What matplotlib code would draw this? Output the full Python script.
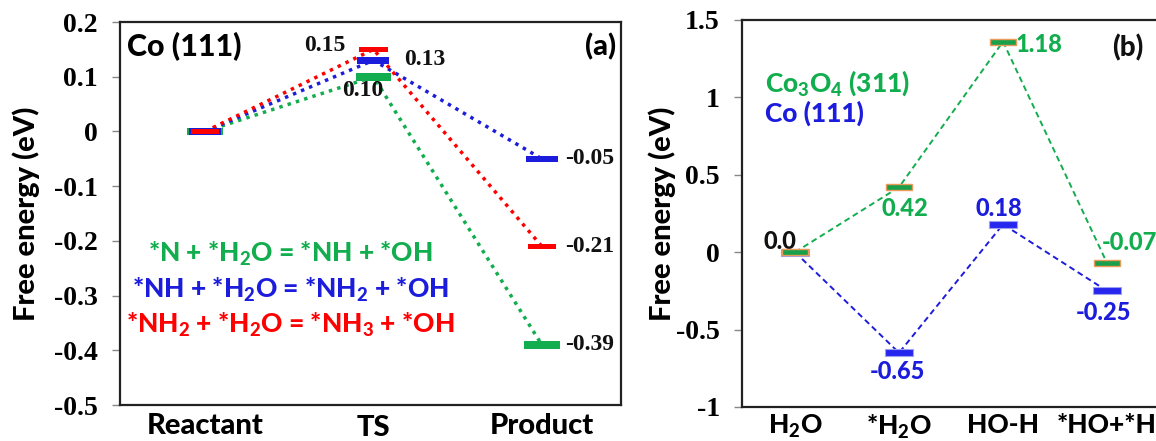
import matplotlib
matplotlib.use('Agg')
import matplotlib.pyplot as plt
import matplotlib.transforms as mtransforms

plt.rcParams['axes.unicode_minus'] = False
plt.rcParams['mathtext.fontset'] = 'custom'
plt.rcParams['mathtext.rm'] = 'Lato:black'
plt.rcParams['mathtext.bf'] = 'Lato:black'
plt.rcParams['mathtext.it'] = 'Lato:black'
plt.rcParams['mathtext.default'] = 'rm'

SANS = 'Lato'
W = 'black'
SERIF = 'Liberation Serif'
GREEN = '#12ad4e'
BLUE = '#1c1cdc'
RED = '#ff0000'

# ---- panel (a): Co(111) N hydrogenation steps
steps_a = ['Reactant', 'TS', 'Product']
e_nh = [0.0, 0.10, -0.39]      # *N + *H2O -> *NH + *OH
e_nh2 = [0.0, 0.13, -0.05]     # *NH + *H2O -> *NH2 + *OH
e_nh3 = [0.0, 0.15, -0.21]     # *NH2 + *H2O -> *NH3 + *OH
eq_labels = [r'*N + *H$_2$O = *NH + *OH',
             r'*NH + *H$_2$O = *NH$_2$ + *OH',
             r'*NH$_2$ + *H$_2$O = *NH$_3$ + *OH']
yticks_a = [-0.5, -0.4, -0.3, -0.2, -0.1, 0, 0.1, 0.2]

# ---- panel (b): water dissociation
steps_b = [r'H$_2$O', r'*H$_2$O', 'HO-H', '*HO+*H']
e_co3o4 = [0.0, 0.42, 1.36, -0.07]   # drawn level
lab_co3o4 = ['', '0.42', '1.18', '-0.07']
e_co = [0.0, -0.65, 0.18, -0.25]
lab_co = ['', '-0.65', '0.18', '-0.25']
yticks_b = [-1, -0.5, 0, 0.5, 1, 1.5]
yticklabels_b = ['-1', '-0.5', '0', '0.5', '1', '1.5']

fig = plt.figure(figsize=(11.56, 4.41), dpi=100)
ax1 = fig.add_axes([0.1038, 0.0816, 0.4334, 0.8685])
ax2 = fig.add_axes([0.6419, 0.0771, 0.3607, 0.8776])

for ax in (ax1, ax2):
    for s in ax.spines.values():
        s.set_color('#222222')
        s.set_linewidth(1.6)
    ax.tick_params(axis='y', direction='out', length=6, width=1, color='#888888', pad=10)
    ax.tick_params(axis='x', length=0)

# ---------------- panel (a)
xa = list(range(len(steps_a)))
series_a = [(e_nh, GREEN, 0.21, 0.014), (e_nh2, BLUE, 0.19, 0.012), (e_nh3, RED, 0.17, 0.010)]
for vals, c, w, h in series_a:
    ax1.plot(xa, vals, color=c, lw=2.5, linestyle=(0, (1, 1.5)), zorder=2)
for vals, c, w, h in series_a:
    ax1.barh(vals, w, left=[x - w / 2 for x in xa], height=h, color=c, zorder=3)

ax1.set_xlim(-0.505, 2.47)
ax1.set_ylim(-0.5, 0.2)
ax1.set_yticks(yticks_a)
ax1.set_yticklabels(['%g' % v for v in yticks_a], fontfamily=SERIF, fontweight='bold', fontsize=20)
ax1.set_xticks([])
ax1.set_ylabel('Free energy (eV)', fontfamily=SANS, fontweight=W, fontsize=21, labelpad=10)

tr = mtransforms.blended_transform_factory(ax1.transData, ax1.transAxes)
for x, s, dy in zip(xa, steps_a, [0, -0.006, 0]):
    ax1.text(x, -0.02 + dy, s, transform=tr, ha='center', va='top',
             fontfamily=SANS, fontweight=W, fontsize=21)

vt = dict(fontfamily=SERIF, fontweight='bold', fontsize=17, color='#111111')
ax1.text(0.71, e_nh3[1] + 0.007, '%.2f' % e_nh3[1], ha='center', va='center', **vt)
ax1.text(1.18, e_nh2[1] + 0.002, '%.2f' % e_nh2[1], ha='left', va='center', **vt)
ax1.text(0.935, e_nh[1] - 0.025, '%.2f' % e_nh[1], ha='center', va='center', **vt)
for vals in (e_nh, e_nh2, e_nh3):
    ax1.text(2.14, vals[2], '%.2f' % vals[2], ha='left', va='center', **vt)

ax1.text(0.014, 0.935, 'Co (111)', transform=ax1.transAxes, ha='left', va='center',
         fontfamily=SANS, fontweight=W, fontsize=22)
ax1.text(0.99, 0.935, '(a)', transform=ax1.transAxes, ha='right', va='center',
         fontfamily=SANS, fontweight=W, fontsize=21)
for lab, c, yy in zip(eq_labels, [GREEN, BLUE, RED], [-0.224, -0.289, -0.354]):
    ax1.text(0.505, yy, lab, ha='center', va='center', color=c,
             fontfamily=SANS, fontweight=W, fontsize=19)

# ---------------- panel (b)
xb = list(range(len(steps_b)))
ax2.plot(xb, e_co3o4, color=GREEN, lw=1.4, linestyle=(0, (3, 2)), zorder=2)
ax2.plot(xb, e_co, color=BLUE, lw=1.4, linestyle=(0, (3, 2)), zorder=2)
ax2.barh(e_co, 0.27, left=[x - 0.135 for x in xb], height=0.045, color='#2626ee',
         edgecolor='#a0a0f0', linewidth=0.8, zorder=3)
ax2.barh(e_co3o4, 0.25, left=[x - 0.125 for x in xb], height=0.04, color='#1aa04a',
         edgecolor='#eb9a5a', linewidth=1.0, zorder=4)

ax2.set_xlim(-0.51, 3.5)
ax2.set_ylim(-1, 1.5)
ax2.set_yticks(yticks_b)
ax2.set_yticklabels(yticklabels_b, fontfamily=SERIF, fontweight='bold', fontsize=20)
ax2.set_xticks([])
ax2.set_ylabel('Free energy (eV)', fontfamily=SANS, fontweight=W, fontsize=21, labelpad=0)

tr2 = mtransforms.blended_transform_factory(ax2.transData, ax2.transAxes)
for x, s in zip(xb, steps_b):
    ax2.text(x, -0.016, s, transform=tr2, ha='center', va='top',
             fontfamily=SANS, fontweight=W, fontsize=19)

bt = dict(fontfamily=SANS, fontweight=W, fontsize=17)
ax2.text(-0.15, 0.07, '0.0', ha='center', va='center', color='#111111', **bt)
ax2.text(1.06, e_co3o4[1] - 0.14, lab_co3o4[1], ha='center', va='center', color=GREEN, **bt)
ax2.text(2.12, e_co3o4[2] - 0.02, lab_co3o4[2], ha='left', va='center', color=GREEN, **bt)
ax2.text(2.95, e_co3o4[3] + 0.13, lab_co3o4[3], ha='left', va='center', color=GREEN, **bt)
ax2.text(0.98, e_co[1] - 0.12, lab_co[1], ha='center', va='center', color=BLUE, **bt)
ax2.text(1.96, e_co[2] + 0.10, lab_co[2], ha='center', va='center', color=BLUE, **bt)
ax2.text(2.97, e_co[3] - 0.14, lab_co[3], ha='center', va='center', color=BLUE, **bt)

ax2.text(-0.29, 1.09, r'Co$_3$O$_4$ (311)', ha='left', va='center', color=GREEN,
         fontfamily=SANS, fontweight=W, fontsize=19)
ax2.text(-0.29, 0.9, 'Co (111)', ha='left', va='center', color=BLUE,
         fontfamily=SANS, fontweight=W, fontsize=19)
ax2.text(3.2, 1.32, '(b)', ha='center', va='center', color='#111111',
         fontfamily=SANS, fontweight=W, fontsize=20)

fig.savefig('out.png', dpi=100)
